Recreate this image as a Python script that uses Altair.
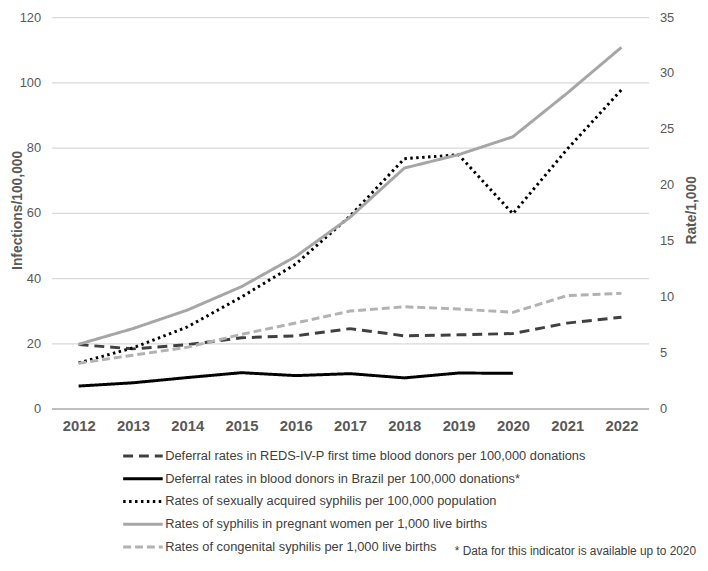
import altair as alt
import pandas as pd

years = ["2012", "2013", "2014", "2015", "2016", "2017", "2018", "2019", "2020", "2021", "2022"]

# left axis (Infections/100,000)
reds = [19.6, 18.3, 19.6, 21.7, 22.3, 24.5, 22.3, 22.6, 23.0, 26.2, 28.0]
brazil = [6.9, 7.9, 9.5, 11.0, 10.1, 10.7, 9.4, 10.9, 10.8, None, None]
sexual = [14.0, 18.6, 25.0, 34.2, 44.3, 59.0, 76.6, 77.8, 59.7, 79.5, 97.7]

# right axis (Rate/1,000)
pregnant = [5.75, 7.15, 8.8, 10.9, 13.6, 17.1, 21.5, 22.7, 24.3, 28.2, 32.3]
congenital = [4.05, 4.77, 5.48, 6.64, 7.65, 8.72, 9.1, 8.9, 8.6, 10.1, 10.3]

names = [
    "Deferral rates in REDS-IV-P first time blood donors per 100,000 donations",
    "Deferral rates in blood donors in Brazil per 100,000 donations*",
    "Rates of sexually acquired syphilis per 100,000 population",
    "Rates of syphilis in pregnant women per 1,000 live births",
    "Rates of congenital syphilis per 1,000 live births",
]
colors = ["#404040", "#000000", "#000000", "#a6a6a6", "#b2b2b2"]
dashes = [[10, 6], [1, 0], [2.5, 3.5], [1, 0], [8, 4]]
left_ticks = [0, 20, 40, 60, 80, 100, 120]
right_ticks = [0, 5, 10, 15, 20, 25, 30, 35]
footnote = "* Data for this indicator is available up to 2020"

FONT = "Liberation Sans"
AXC = "#595959"


def to_long(series_list, series_names):
    rows = []
    for name, vals in zip(series_names, series_list):
        for yr, v in zip(years, vals):
            if v is not None:
                rows.append({"year": yr, "series": name, "value": v})
    return pd.DataFrame(rows)


left_df = to_long([reds, brazil, sexual], names[:3])
right_df = to_long([pregnant, congenital], names[3:])

legend = alt.Legend(
    title=None, orient="none", legendX=81, legendY=432.5,
    symbolType="M-2,0H2", symbolSize=400, symbolStrokeWidth=3,
    labelOffset=11, labelFontSize=13, labelColor="#404040", labelFont=FONT,
    rowPadding=4, padding=0, labelLimit=600,
)
color = alt.Color("series:N", scale=alt.Scale(domain=names, range=colors), legend=legend)
dash = alt.StrokeDash("series:N", scale=alt.Scale(domain=names, range=dashes), legend=legend)

xenc = alt.X(
    "year:O", title=None,
    axis=alt.Axis(labelAngle=0, labelFontSize=15, labelFontWeight="bold", labelColor=AXC,
                  labelFont=FONT, labelPadding=10, domainColor="#bfbfbf", domainWidth=2,
                  ticks=False, grid=False),
)

left = alt.Chart(left_df).mark_line(strokeWidth=3).encode(
    x=xenc,
    y=alt.Y(
        "value:Q", scale=alt.Scale(domain=[0, 120], nice=False),
        axis=alt.Axis(title="Infections/100,000", values=left_ticks, orient="left",
                      labelFontSize=13, labelColor=AXC, labelFont=FONT, labelPadding=11,
                      domain=False, ticks=False, grid=True, gridColor="#d9d9d9", gridWidth=1.2,
                      titleFont=FONT, titleFontSize=14, titleFontWeight="bold", titleColor=AXC,
                      titleAngle=270, titleX=-34, titleY=195, titleAlign="center",
                      titleBaseline="middle"),
    ),
    color=color,
    strokeDash=dash,
)

right = alt.Chart(right_df).mark_line(strokeWidth=3).encode(
    x=xenc,
    y=alt.Y(
        "value:Q", scale=alt.Scale(domain=[0, 35], nice=False),
        axis=alt.Axis(title="Rate/1,000", values=right_ticks, orient="right",
                      labelFontSize=13, labelColor=AXC, labelFont=FONT, labelPadding=11,
                      domain=False, ticks=False, grid=False,
                      titleFont=FONT, titleFontSize=14, titleFontWeight="bold", titleColor=AXC,
                      titleAngle=270, titleX=43, titleY=195, titleAlign="center",
                      titleBaseline="middle"),
    ),
    color=color,
    strokeDash=dash,
)

note = alt.Chart(pd.DataFrame({"t": [footnote]})).mark_text(
    align="right", baseline="middle", fontSize=12, font=FONT, color="#404040"
).encode(text="t:N", x=alt.value(652), y=alt.value(540))

chart = (
    alt.layer(left, right, note)
    .resolve_scale(y="independent")
    .properties(
        width=604, height=396,
        autosize=alt.AutoSizeParams(type="none"),
        padding={"left": 44, "top": 6, "right": 52, "bottom": 151},
    )
    .configure_view(stroke=None)
)

chart.save("out.html", embed_options={"renderer": "svg", "actions": False})
